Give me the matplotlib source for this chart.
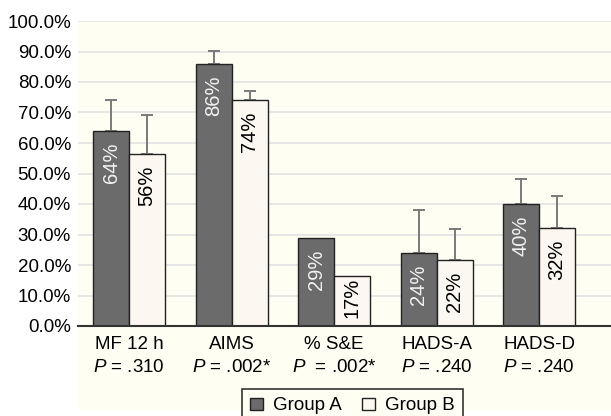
import numpy as np
import matplotlib.pyplot as plt
from matplotlib.patches import Rectangle, Patch

plt.rcParams['font.family'] = ['Liberation Sans', 'DejaVu Sans']
plt.rcParams['mathtext.fontset'] = 'custom'
plt.rcParams['mathtext.it'] = 'Liberation Sans:italic'
plt.rcParams['mathtext.rm'] = 'Liberation Sans'

# dane
categories = ['MF 12 h', 'AIMS', '% S&E', 'HADS-A', 'HADS-D']
p_values = ['= .310', '= .002*', ' = .002*', '= .240', '= .240']
group_a = [64, 86, 28.7, 24, 40]
group_b = [56.5, 74, 16.5, 21.7, 32]
err_a = [10, 4.3, 0, 14, 8.2]
err_b = [12.7, 3, 0, 10, 10.6]
labels_a = ['64%', '86%', '29%', '24%', '40%']
labels_b = ['56%', '74%', '17%', '22%', '32%']

cream = '#fefef3'
dark = '#6b6b6b'
light = '#fcf8f1'

fig = plt.figure(figsize=(6.11, 4.16), dpi=100)
fig.patch.set_facecolor('white')
fig.add_artist(Rectangle((78 / 611, 1 - 410 / 416), 1 - 78 / 611, (410 - 21) / 416,
                         transform=fig.transFigure, facecolor=cream, edgecolor='none', zorder=0))

ax = fig.add_axes([78 / 611, 1 - 326 / 416, 1 - 78 / 611, (326 - 21) / 416])
ax.set_facecolor('none')

x = np.arange(len(categories))
w = 0.35
ax.bar(x - w / 2, group_a, w, color=dark, edgecolor='#222222', linewidth=1.0, zorder=3)
ax.bar(x + w / 2, group_b, w, color=light, edgecolor='#222222', linewidth=1.0, zorder=3)

# tylko górne słupki błędów
for xs, vals, errs in [(x - w / 2, group_a, err_a), (x + w / 2, group_b, err_b)]:
    for xi, v, e in zip(xs, vals, errs):
        if e > 0:
            ax.errorbar(xi, v, yerr=[[0], [e]], color='#7a7a7a', capsize=4.5,
                        elinewidth=1.4, capthick=1.4, zorder=2)

# etykiety w słupkach (niskie słupki - tekst od dołu)
def put_label(xi, v, t, color):
    if v < 20:
        ax.text(xi, 2.6, t, rotation=90, ha='center', va='bottom', color=color,
                fontsize=14.5, zorder=4)
    else:
        ax.text(xi, v - 3.8, t, rotation=90, ha='center', va='top', color=color,
                fontsize=14.5, zorder=4)

for xi, v, t in zip(x - w / 2, group_a, labels_a):
    put_label(xi, v, t, '#f2f2f2')
for xi, v, t in zip(x + w / 2, group_b, labels_b):
    put_label(xi, v, t, 'black')

ax.set_xlim(-0.5, 4.70)
ax.set_ylim(0, 100)
ax.set_yticks(np.arange(0, 101, 10))
ax.set_yticklabels([f'{v:.1f}%' for v in np.arange(0, 101, 10)], fontsize=13.5)
ax.set_xticks(x)
ax.set_xticklabels([f'{c}\n$P$ {p}' for c, p in zip(categories, p_values)],
                   fontsize=13.5, linespacing=1.45)
ax.tick_params(axis='both', length=0)
ax.tick_params(axis='x', pad=7)
ax.tick_params(axis='y', pad=5)
ax.grid(axis='y', color='#e2e2e2', linewidth=1.2, zorder=0)
ax.set_axisbelow(True)
for s in ['left', 'right', 'top']:
    ax.spines[s].set_visible(False)
ax.spines['bottom'].set_color('#333333')
ax.spines['bottom'].set_linewidth(1.5)
ax.spines['bottom'].set_zorder(5)

handles = [Patch(facecolor=dark, edgecolor='#222222', label='Group A'),
           Patch(facecolor=light, edgecolor='#222222', label='Group B')]
leg = fig.legend(handles=handles, loc='upper left', bbox_to_anchor=(242 / 611, 1 - 389 / 416),
                 ncol=2, fontsize=13.5, frameon=True, fancybox=False, edgecolor='black',
                 handlelength=0.65, handleheight=0.65, handletextpad=0.55, columnspacing=1.1,
                 borderpad=0.45, borderaxespad=0)
leg.get_frame().set_facecolor(cream)
leg.get_frame().set_linewidth(1.2)

fig.savefig('out.png', dpi=100)
